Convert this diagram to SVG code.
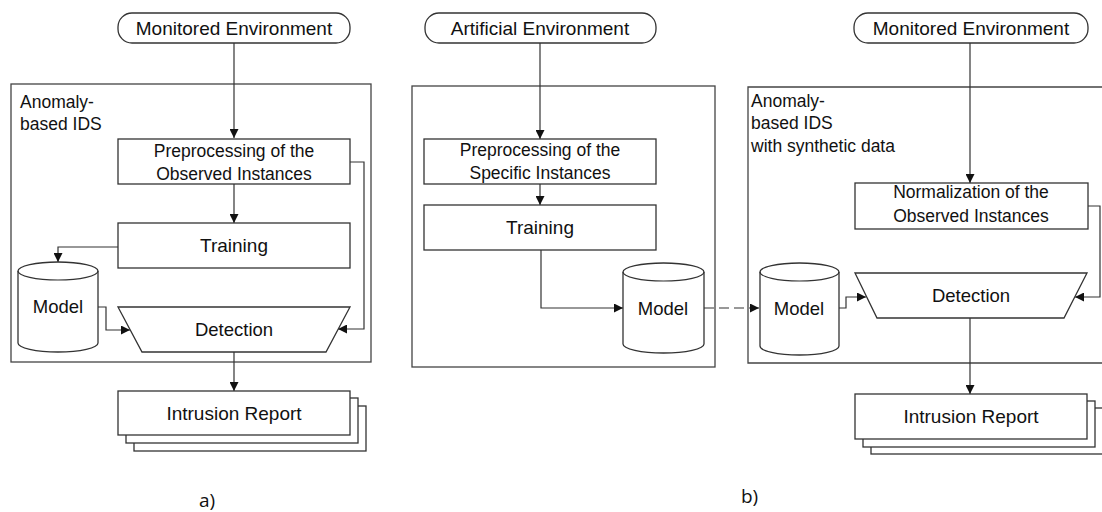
<svg xmlns="http://www.w3.org/2000/svg" width="1102" height="512" viewBox="0 0 1102 512">
<defs>
<style>
.t{font-family:"Liberation Sans",Arial,sans-serif;fill:#111;}
.c{text-anchor:middle;}
.s19{font-size:19px;}
.s18{font-size:18.5px;}
.s17{font-size:17.5px;}
.box{fill:#fff;stroke:#333;stroke-width:1.3;}
.frame{fill:none;stroke:#444;stroke-width:1.3;}
.ln{fill:none;stroke:#333;stroke-width:1.2;}
.cap{font-family:"Open Sans","Liberation Sans",sans-serif;font-size:19px;fill:#111;}
</style>
<marker id="ah" viewBox="0 0 10 10" refX="10" refY="5" markerWidth="10" markerHeight="9" markerUnits="userSpaceOnUse" orient="auto">
<path d="M0,0 L10,5 L0,10 z" fill="#111"/>
</marker>
</defs>

<!-- Frames -->
<g id="frame-a"><rect class="frame" x="11" y="84" width="360" height="278"/>
<text class="t s17" x="20" y="108">Anomaly-</text><text class="t s17" x="20" y="130">based IDS</text></g>
<g id="frame-b1"><rect class="frame" x="412" y="86" width="303" height="281"/></g>
<g id="frame-b2"><path class="frame" d="M1110,87 H748 V363 H1110"/>
<text class="t s17" x="751" y="107">Anomaly-</text><text class="t s17" x="751" y="129">based IDS</text><text class="t s17" x="751" y="152">with synthetic data</text></g>

<!-- Connectors -->
<g id="connectors">
<path class="ln" d="M234,43 V138" marker-end="url(#ah)"/>
<path class="ln" d="M234,184 V223" marker-end="url(#ah)"/>
<path class="ln" d="M118,247 H58 V262" marker-end="url(#ah)"/>
<path class="ln" d="M98,307 H106 V330 H130" marker-end="url(#ah)"/>
<path class="ln" d="M350,162 H364 V329 H338" marker-end="url(#ah)"/>
<path class="ln" d="M234,352 V391" marker-end="url(#ah)"/>

<path class="ln" d="M540,43 V139" marker-end="url(#ah)"/>
<path class="ln" d="M540,184 V205" marker-end="url(#ah)"/>
<path class="ln" d="M541,250 V308 H623" marker-end="url(#ah)"/>
<path class="ln" d="M704,308 H759" stroke-dasharray="10,5" marker-end="url(#ah)"/>

<path class="ln" d="M970,43 V183" marker-end="url(#ah)"/>
<path class="ln" d="M1088,206 H1100 V297 H1075" marker-end="url(#ah)"/>
<path class="ln" d="M839,308 H846 V297 H866" marker-end="url(#ah)"/>
<path class="ln" d="M970,318 V394" marker-end="url(#ah)"/>
</g>

<!-- Panel a -->
<g id="env-a"><rect class="box" x="118" y="13" width="232" height="30" rx="14"/>
<text class="t s19 c" x="234" y="35">Monitored Environment</text></g>
<g id="prep-a"><rect class="box" x="118" y="139" width="232" height="45"/>
<text class="t s17 c" x="234" y="157">Preprocessing of the</text><text class="t s17 c" x="234" y="180">Observed Instances</text></g>
<g id="train-a"><rect class="box" x="118" y="223" width="232" height="45"/>
<text class="t s19 c" x="234" y="252">Training</text></g>
<g id="model-a"><path class="box" d="M18,271 A40,9 0 0 1 98,271 V343 A40,9 0 0 1 18,343 Z"/>
<path class="ln" d="M18,271 A40,9 0 0 0 98,271"/>
<text class="t s18 c" x="58" y="313">Model</text></g>
<g id="det-a"><path class="box" d="M118,307 H350 L326,352 H142 Z"/>
<text class="t s18 c" x="234" y="336">Detection</text></g>
<g id="report-a">
<rect class="box" x="134" y="406" width="232" height="45"/>
<rect class="box" x="126" y="398" width="232" height="45"/>
<rect class="box" x="118" y="391" width="232" height="44"/>
<text class="t s19 c" x="234" y="420">Intrusion Report</text></g>

<!-- Panel b middle -->
<g id="env-art"><rect class="box" x="425" y="13" width="231" height="30" rx="14"/>
<text class="t s19 c" x="540" y="35">Artificial Environment</text></g>
<g id="prep-b"><rect class="box" x="424" y="139" width="232" height="45"/>
<text class="t s17 c" x="540" y="156">Preprocessing of the</text><text class="t s17 c" x="540" y="179">Specific Instances</text></g>
<g id="train-b"><rect class="box" x="424" y="205" width="232" height="45"/>
<text class="t s19 c" x="540" y="234">Training</text></g>
<g id="model-b1"><path class="box" d="M623,272 A40.5,9 0 0 1 704,272 V344 A40.5,9 0 0 1 623,344 Z"/>
<path class="ln" d="M623,272 A40.5,9 0 0 0 704,272"/>
<text class="t s18 c" x="663" y="315">Model</text></g>

<!-- Panel b right -->
<g id="env-b"><rect class="box" x="854" y="13" width="234" height="30" rx="14"/>
<text class="t s19 c" x="971" y="35">Monitored Environment</text></g>
<g id="norm-b"><rect class="box" x="855" y="183" width="233" height="46"/>
<text class="t s17 c" x="971" y="198">Normalization of the</text><text class="t s17 c" x="971" y="222">Observed Instances</text></g>
<g id="model-b2"><path class="box" d="M760,272 A39.5,9 0 0 1 839,272 V346 A39.5,9 0 0 1 760,346 Z"/>
<path class="ln" d="M760,272 A39.5,9 0 0 0 839,272"/>
<text class="t s18 c" x="799" y="315">Model</text></g>
<g id="det-b"><path class="box" d="M855,273 H1087 L1064,318 H877 Z"/>
<text class="t s18 c" x="971" y="302">Detection</text></g>
<g id="report-b">
<rect class="box" x="871" y="408" width="233" height="46"/>
<rect class="box" x="863" y="401" width="232" height="46"/>
<rect class="box" x="855" y="394" width="232" height="45"/>
<text class="t s19 c" x="971" y="423">Intrusion Report</text></g>

<text class="cap" x="199" y="507">a)</text>
<text class="cap" x="741" y="503">b)</text>
</svg>
